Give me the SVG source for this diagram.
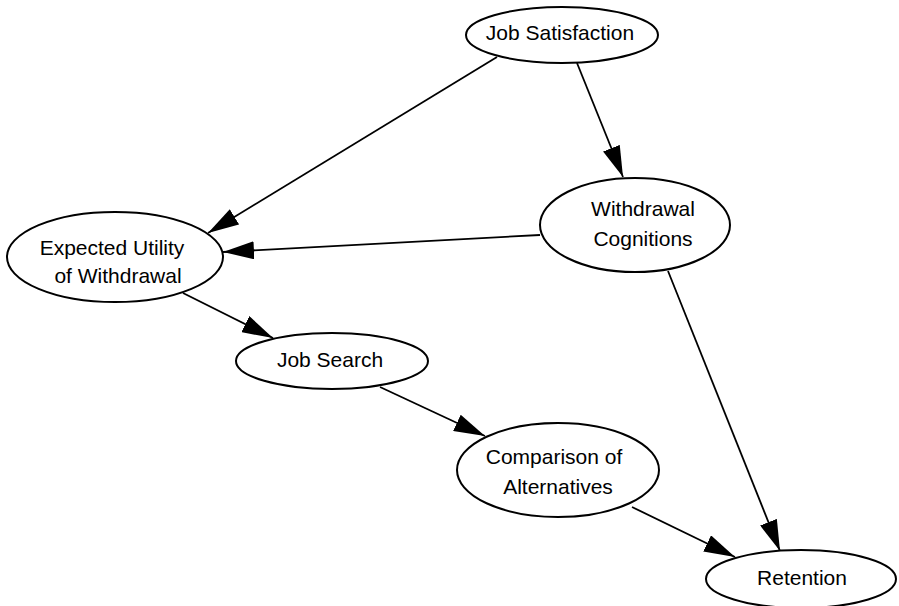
<svg xmlns="http://www.w3.org/2000/svg" width="899" height="606" viewBox="0 0 899 606">
  <style>
    .node ellipse { fill: #ffffff; stroke: #000000; stroke-width: 2; }
    .node text { font-family: "Liberation Sans", Arial, sans-serif; font-size: 21px; fill: #000000; text-anchor: middle; }
    .edge { stroke: #000000; stroke-width: 1.8; fill: none; marker-end: url(#arrow); }
  </style>
  <defs>
    <marker id="arrow" markerUnits="userSpaceOnUse" markerWidth="31" markerHeight="18" refX="31" refY="9" orient="auto">
      <path d="M0,0 L31,9 L0,18 Z" fill="#000000"/>
    </marker>
  </defs>
  <rect width="899" height="606" fill="#ffffff"/>

  <!-- connectors -->
  <g id="connectors">
    <line class="edge" x1="497" y1="57" x2="208" y2="233"/>
    <line class="edge" x1="577" y1="63" x2="623" y2="177"/>
    <line class="edge" x1="540" y1="235" x2="223" y2="252"/>
    <line class="edge" x1="183" y1="293" x2="273" y2="338"/>
    <line class="edge" x1="380" y1="387" x2="485" y2="436"/>
    <line class="edge" x1="632" y1="507" x2="735" y2="557"/>
    <line class="edge" x1="668" y1="271" x2="780" y2="551"/>
  </g>

  <!-- nodes -->
  <g id="job-satisfaction" class="node">
    <ellipse cx="562" cy="35" rx="96" ry="28"/>
    <text x="560" y="40">Job Satisfaction</text>
  </g>
  <g id="withdrawal-cognitions" class="node">
    <ellipse cx="635" cy="225" rx="95" ry="47"/>
    <text x="643" y="216">Withdrawal</text>
    <text x="643" y="246">Cognitions</text>
  </g>
  <g id="expected-utility" class="node">
    <ellipse cx="115" cy="257" rx="108" ry="45"/>
    <text x="112" y="255">Expected Utility</text>
    <text x="118" y="283">of Withdrawal</text>
  </g>
  <g id="job-search" class="node">
    <ellipse cx="332" cy="361" rx="96" ry="28"/>
    <text x="330" y="367">Job Search</text>
  </g>
  <g id="comparison" class="node">
    <ellipse cx="558" cy="470" rx="101" ry="47"/>
    <text x="554" y="464">Comparison of</text>
    <text x="558" y="494">Alternatives</text>
  </g>
  <g id="retention" class="node">
    <ellipse cx="801" cy="579" rx="95" ry="29"/>
    <text x="802" y="585">Retention</text>
  </g>
</svg>
